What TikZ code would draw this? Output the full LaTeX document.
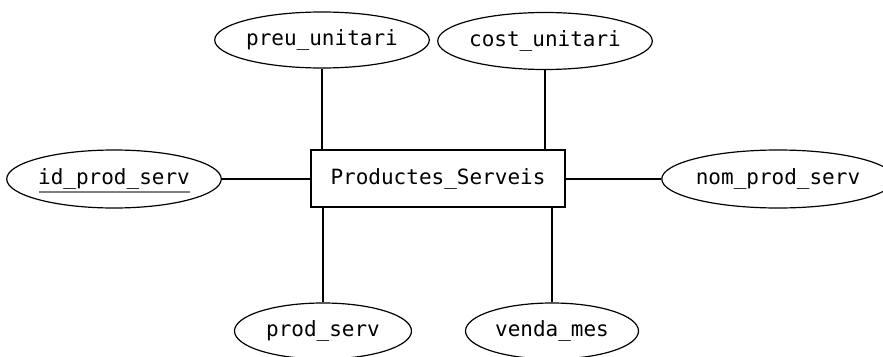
\documentclass[tikz,border=0pt]{standalone}
\usepackage{fontspec}
\setmonofont{DejaVu Sans Mono}
\usetikzlibrary{shapes.geometric,calc}
\begin{document}
\begin{tikzpicture}[x=1pt,y=-1pt,
  attr/.style={ellipse,draw,line width=1.2pt,inner sep=0pt,font=\ttfamily\fontsize{21}{24}\selectfont},
  entity/.style={rectangle,draw,line width=1.4pt,inner sep=0pt,minimum width=254pt,minimum height=57pt,font=\ttfamily\fontsize{21}{24}\selectfont},
  conn/.style={line width=2.4pt}]
\useasboundingbox (0,0) rectangle (883,356);
\clip (0,0) rectangle (883,356);
\node[entity] (ent) at (438,178.5) {Productes\_Serveis};
\node[attr,minimum width=212pt,minimum height=56pt] (preu) at (322,40) {preu\_unitari};
\node[attr,minimum width=214pt,minimum height=57pt] (cost) at (545,41) {cost\_unitari};
\node[attr,minimum width=212pt,minimum height=58pt] (id) at (114,179) {id\_prod\_serv};
\node[attr,minimum width=218pt,minimum height=58pt] (nom) at (778,179) {nom\_prod\_serv};
\node[attr,minimum width=177pt,minimum height=56pt] (prod) at (323,331) {prod\_serv};
\node[attr,minimum width=173pt,minimum height=56pt] (venda) at (552,331) {venda\_mes};
\draw[line width=2.4pt,gray] ($(id.center)+(-75,13)$) -- ($(id.center)+(76,13)$);
\draw[conn] (preu.south) -- (preu.south |- ent.north);
\draw[conn] (cost.south) -- (cost.south |- ent.north);
\draw[conn] (id.east) -- (id.east -| ent.west);
\draw[conn] (nom.west) -- (nom.west -| ent.east);
\draw[conn] (prod.north) -- (prod.north |- ent.south);
\draw[conn] (venda.north) -- (venda.north |- ent.south);
\end{tikzpicture}
\end{document}
